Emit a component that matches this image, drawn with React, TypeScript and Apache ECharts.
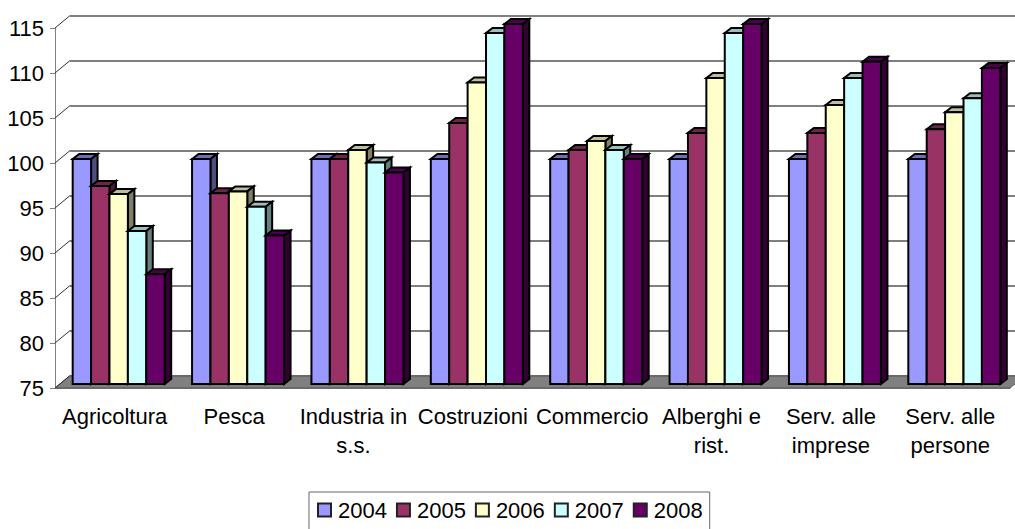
import React, { useEffect, useRef } from "react";
import * as echarts from "echarts";

const categories = ["Agricoltura", "Pesca", "Industria in\ns.s.", "Costruzioni", "Commercio", "Alberghi e\nrist.", "Serv. alle\nimprese", "Serv. alle\npersone"];
const years = ["2004", "2005", "2006", "2007", "2008"];
const v2004 = [100, 100, 100, 100, 100, 100, 100, 100];
const v2005 = [97, 96.2, 100, 104, 101, 102.9, 102.9, 103.3];
const v2006 = [96.1, 96.4, 101, 108.5, 102, 109, 106, 105.2];
const v2007 = [92, 94.7, 99.6, 114, 101, 114, 109, 106.75];
const v2008 = [87.2, 91.5, 98.5, 115, 100, 115, 110.8, 110.1];
const values = [v2004, v2005, v2006, v2007, v2008];
const yTicks = [75, 80, 85, 90, 95, 100, 105, 110, 115];
const colors = ["#9999FF", "#993366", "#FFFFCC", "#CCFFFF", "#660066"];
const topColors = ["#6F6FB8", "#6E2549", "#BFBF99", "#99BFBF", "#4D004D"];
const sideColors = ["#4D4D80", "#4D1A33", "#808066", "#668080", "#330033"];

const FONT = "Liberation Sans";
const BACK_DX = 14.5;
const BACK_DY = 12;
const BAR_W = 18.4;
const FRONT_DX = 4;
const FRONT_DY = 4;
const SIDE_DX = 6.5;
const SIDE_DY = 5;

export default function App() {
  const ref = useRef<HTMLDivElement>(null);
  useEffect(() => {
    document.body.style.margin = "0";
    const chart = echarts.init(ref.current!, null, { renderer: "svg" });
    const barSeries = years.map((y, si) => ({
      type: "custom",
      name: y,
      xAxisIndex: 0,
      yAxisIndex: 0,
      z: 5,
      silent: true,
      itemStyle: { color: colors[si], borderColor: "#222", borderWidth: 1.5 },
      encode: { x: 0, y: 1 },
      data: values[si].map((v, i) => [i, v]),
      renderItem: (_p: any, api: any) => {
        const top = api.coord([api.value(0), api.value(1)]);
        const base = api.coord([api.value(0), 75]);
        const x0 = top[0] + FRONT_DX - 2.5 * BAR_W + si * BAR_W;
        const x1 = x0 + BAR_W;
        const y0 = top[1] - FRONT_DY;
        const y1 = base[1] - FRONT_DY;
        const line = { stroke: "#000", lineWidth: 2, lineJoin: "miter" };
        return {
          type: "group",
          children: [
            { type: "polygon", shape: { points: [[x0, y0], [x0 + SIDE_DX, y0 - SIDE_DY], [x1 + SIDE_DX, y0 - SIDE_DY], [x1, y0]] }, style: { fill: topColors[si], ...line } },
            { type: "polygon", shape: { points: [[x1, y0], [x1 + SIDE_DX, y0 - SIDE_DY], [x1 + SIDE_DX, y1 - SIDE_DY], [x1, y1]] }, style: { fill: sideColors[si], ...line } },
            { type: "rect", shape: { x: x0, y: y0, width: BAR_W, height: y1 - y0 }, style: { fill: colors[si], ...line } },
          ],
        };
      },
    }));
    const option: any = {
      animation: false,
      backgroundColor: "#fff",
      textStyle: { fontFamily: FONT },
      grid: [
        { left: 55, top: 28, width: 955, height: 360 },
        { left: 55 + BACK_DX, top: 28 - BACK_DY, width: 955, height: 360 },
      ],
      xAxis: [
        {
          type: "category", gridIndex: 0, data: categories,
          axisLine: { lineStyle: { color: "#808080", width: 1 } },
          axisTick: { length: 5, lineStyle: { color: "#808080" } },
          axisLabel: { color: "#000", fontSize: 22, fontFamily: FONT, lineHeight: 29, margin: 14, interval: 0, hideOverlap: false },
        },
        { type: "category", gridIndex: 1, data: categories, show: false },
      ],
      yAxis: [
        {
          type: "value", gridIndex: 0, min: 75, max: 115, interval: 5,
          splitLine: { show: false },
          axisLine: { show: true, lineStyle: { color: "#808080", width: 1 } },
          axisTick: { show: true, length: 5, lineStyle: { color: "#808080" } },
          axisLabel: { color: "#000", fontSize: 22, fontFamily: FONT, margin: 11, padding: [0, 0, 3, 0] },
        },
        {
          type: "value", gridIndex: 1, min: 75, max: 115, interval: 5,
          axisLine: { show: false }, axisTick: { show: false }, axisLabel: { show: false },
          splitLine: { show: true, lineStyle: { color: "#555", width: 1.5 } },
        },
      ],
      legend: {
        data: years,
        left: 309, top: 492,
        orient: "horizontal",
        icon: "rect",
        itemWidth: 13, itemHeight: 13, itemGap: 9,
        padding: [7, 7, 12, 8],
        borderColor: "#666", borderWidth: 1,
        selectedMode: false,
        textStyle: { color: "#000", fontSize: 22, fontFamily: FONT, padding: [0, 0, 0, 2] },
      },
      tooltip: { show: false },
      series: [
        {
          type: "custom", xAxisIndex: 0, yAxisIndex: 0, z: 1, silent: true,
          encode: { x: 0, y: 1 },
          data: [[0, 75]],
          renderItem: (p: any, api: any) => {
            const cs = p.coordSys;
            const y = api.coord([0, 75])[1];
            return {
              type: "polygon",
              shape: { points: [[cs.x, y], [cs.x + BACK_DX, y - BACK_DY], [cs.x + cs.width + BACK_DX, y - BACK_DY], [cs.x + cs.width, y]] },
              style: { fill: "#808080", stroke: "#555", lineWidth: 1 },
            };
          },
        },
        {
          type: "custom", xAxisIndex: 0, yAxisIndex: 0, z: 2, silent: true,
          encode: { x: 0, y: 1 },
          data: yTicks.map((t) => [0, t]),
          renderItem: (p: any, api: any) => {
            const y = api.coord([0, api.value(1)])[1];
            const x = p.coordSys.x;
            return {
              type: "line",
              shape: { x1: x, y1: y, x2: x + BACK_DX, y2: y - BACK_DY },
              style: { stroke: "#333", lineWidth: 1 },
            };
          },
        },
        ...barSeries,
      ],
    };
    chart.setOption(option);
    return () => chart.dispose();
  }, []);
  return <div ref={ref} style={{ width: 1015, height: 529 }} />;
}
